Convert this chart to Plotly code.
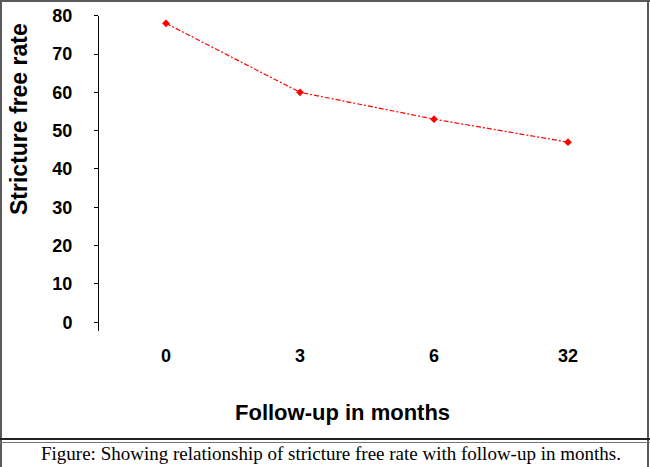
"""Stricture free rate vs follow-up (line chart)"""
import plotly.graph_objects as go

# data
months = ["0", "3", "6", "32"]
rates = [78, 60, 53, 47]
y_ticks = [0, 10, 20, 30, 40, 50, 60, 70, 80]

W, H = 650, 467


def px_x(x):
    return x / W


def px_y(y):
    return 1 - y / H


fig = go.Figure()
fig.add_trace(
    go.Scatter(
        x=months,
        y=rates,
        mode="lines+markers",
        line=dict(color="#ff0000", width=1.2, dash="5px,2px,2px,2px"),
        marker=dict(color="#ff0000", symbol="diamond", size=6),
        showlegend=False,
        hoverinfo="x+y",
    )
)

bold = dict(family="Liberation Sans, Arial", size=18, color="black", weight="bold")

fig.update_xaxes(
    type="category",
    range=[-0.5, 3.5],
    domain=[px_x(99), px_x(635)],
    showline=False,
    showgrid=False,
    zeroline=False,
    ticks="",
    tickfont=bold,
    ticklabelstandoff=12,
    automargin=False,
)
fig.update_yaxes(
    range=[-2.3, 80],
    domain=[px_y(331), px_y(15.7)],
    tickvals=y_ticks,
    showline=True,
    linecolor="black",
    linewidth=1,
    ticks="outside",
    ticklen=4,
    tickcolor="black",
    showgrid=False,
    zeroline=False,
    tickfont=bold,
    ticklabelstandoff=18,
    automargin=False,
)

annotations = [
    dict(text="Stricture free rate", x=px_x(19), y=px_y(119), textangle=-90,
         font=dict(bold, size=23)),
    dict(text="Follow-up in months", x=px_x(342), y=px_y(412),
         font=dict(bold, size=22)),
    dict(text="Figure: Showing relationship of stricture free rate with follow-up in months.",
         x=px_x(331), y=px_y(453),
         font=dict(family="Liberation Serif, Times New Roman", size=19, color="black")),
]
for a in annotations:
    a.update(xref="paper", yref="paper", showarrow=False, xanchor="center", yanchor="middle")

border = "#5a5a5a"
shapes = [
    dict(type="line", x0=0, x1=1, y0=px_y(1), y1=px_y(1), line=dict(color=border, width=2)),
    dict(type="line", x0=px_x(1), x1=px_x(1), y0=0, y1=1, line=dict(color=border, width=2)),
    dict(type="line", x0=px_x(648), x1=px_x(648), y0=0, y1=1, line=dict(color=border, width=2)),
    dict(type="line", x0=0, x1=1, y0=px_y(439), y1=px_y(439), line=dict(color="#222222", width=2)),
    dict(type="line", x0=0, x1=1, y0=px_y(442.5), y1=px_y(442.5), line=dict(color="#777777", width=1)),
]
for s in shapes:
    s.update(xref="paper", yref="paper")

fig.update_layout(
    width=W,
    height=H,
    margin=dict(l=0, r=0, t=0, b=0),
    paper_bgcolor="white",
    plot_bgcolor="white",
    annotations=annotations,
    shapes=shapes,
)

# page body has a default margin; drop it so the figure fills the window
fig.write_html(
    "out.html",
    config={"displayModeBar": False},
    post_script="document.body.style.margin='0';",
)
